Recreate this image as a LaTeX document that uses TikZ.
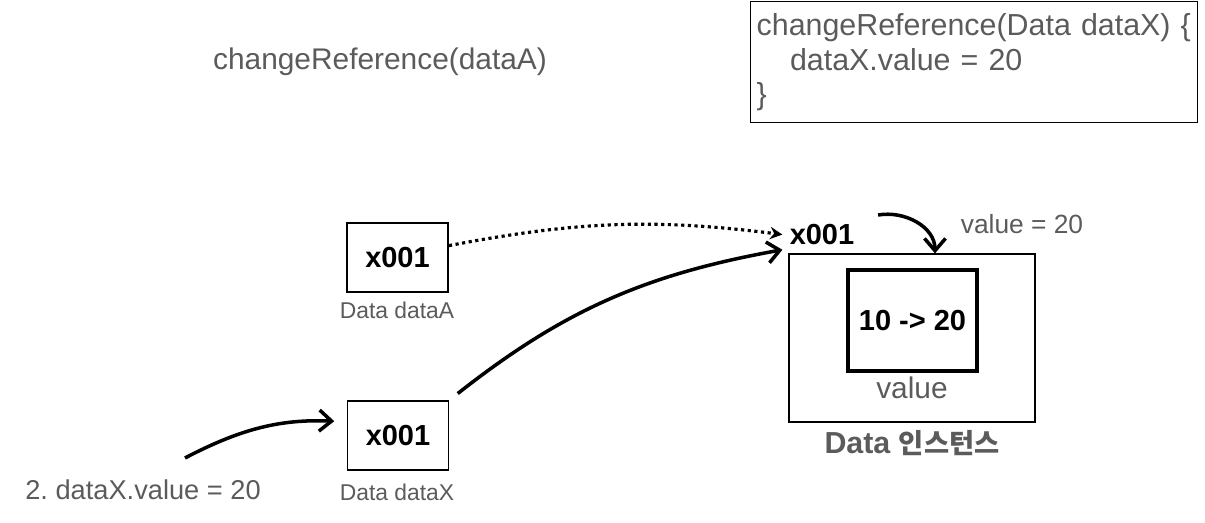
\documentclass[tikz,border=0pt]{standalone}
\usepackage{fontspec}
\setmainfont{Liberation Sans}
\newfontfamily\kofont[Scale=0.9]{Noto Sans CJK KR}
\usetikzlibrary{arrows.meta}
\definecolor{txtgray}{HTML}{5B5B5B}

\begin{document}
\begin{tikzpicture}[x=0.02cm, y=-0.02cm,
    refbox/.style={draw, line width=1.1pt, minimum width=2.02cm, minimum height=1.38cm, font=\fontsize{16.5}{18}\selectfont\bfseries},
    lbl/.style={text=txtgray, font=\fontsize{13}{15}\selectfont},
    arr/.style={-{Straight Barb[length=7pt,width=12pt]}, line width=2pt},
    ]
		\useasboundingbox (0,0) rectangle (1205,523);

				\node [text=txtgray, font=\fontsize{17}{20}\selectfont] (call) at (380,62) {changeReference(dataA)};
				\node [draw, line width=0.8pt, anchor=north west, text width=8.7cm, align=left, inner xsep=3.4pt, minimum height=2.42cm, text=txtgray, font=\fontsize{17.3}{19.8}\selectfont] (code) at (750,1) {changeReference(Data dataX) \{\\\hspace*{19pt}dataX.value = 20\\\}};

				\node [refbox] (boxA) at (397.5,257.5) {x001};
				\node [lbl] (nameA) at (397,310) {Data dataA};
				\node [refbox] (boxX) at (398,435.5) {x001};
				\node [lbl] (nameX) at (397,492) {Data dataX};

				\node [anchor=base, inner sep=2pt, font=\fontsize{16.5}{18}\selectfont\bfseries] (ptr) at (822,245) {x001};
				\node [text=txtgray, font=\fontsize{15}{17}\selectfont] (newval) at (1022,224) {value = 20};

				\node [draw, line width=0.7pt, minimum width=4.92cm, minimum height=3.36cm] (inst) at (912,338) {};
				\node [draw, line width=2.3pt, minimum width=2.58cm, minimum height=2.02cm, font=\fontsize{16.5}{18}\selectfont\bfseries] (field) at (912.5,320.5) {10 -> 20};
				\node [text=txtgray, font=\fontsize{17}{20}\selectfont] (fieldname) at (912,388) {value};
				\node [text=txtgray, font=\fontsize{17.3}{19}\selectfont\bfseries] (instname) at (912,443) {Data {\kofont 인스턴스}};

				\node [text=txtgray, font=\fontsize{15.5}{18}\selectfont] (step2) at (143,490) {2.\ dataX.value = 20};
				\coordinate (from) at (185,458);

				\draw [dotted, line width=1.8pt, -{Stealth[length=7pt,width=7pt]}, shorten >=2pt] (boxA.13) to[bend left=9] (ptr.west);
				\draw [arr, shorten <=6pt, shorten >=2pt] (boxX.north east) to[bend left=14] (ptr.south west);
				\draw [arr, shorten >=7pt] (from) to[bend left=15] (boxX.165);
				\draw [arr] ([shift={(20,-20)}]ptr.east) to[out=10, in=90] ([shift={(23,0)}]inst.north);

			\end{tikzpicture}
\end{document}
